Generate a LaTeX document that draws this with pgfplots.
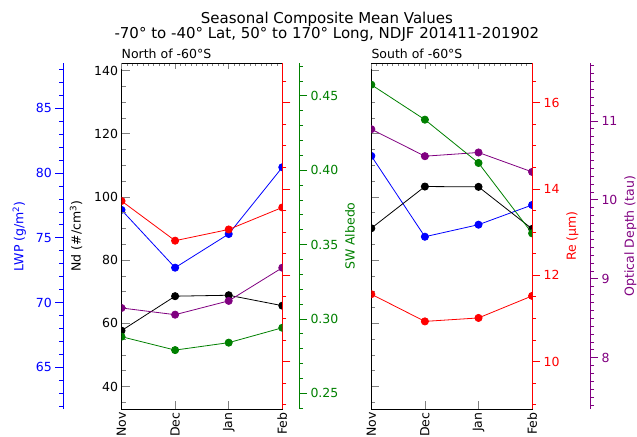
\documentclass[border=0pt]{standalone}
\usepackage{pgfplots}
\usepackage{pgfplotstable}
\pgfplotsset{compat=1.18}
\usepackage{fontspec}
\setmainfont{DejaVu Sans}
\definecolor{cblue}{RGB}{0,0,255}
\definecolor{cred}{RGB}{255,0,0}
\definecolor{cgreen}{RGB}{0,128,0}
\definecolor{cpurple}{RGB}{128,0,128}
\newcommand{\fs}{\fontsize{12.5bp}{15bp}\selectfont}
\pgfplotsset{
  base/.style={scale only axis, width=160.8bp, height=345.7bp, xmin=0, xmax=3,
    clip marker paths=true, major tick length=8bp, minor tick length=4bp,
    /pgf/number format/assume math mode=true,
    tick label style={font=\fs}, label style={font=\fs},
    axis line style={line width=0.8bp}, tick style={line width=0.7bp}},
  ndax/.style={ymin=32.9, ymax=142.3, ytick={40,60,80,100,120,140}, minor ytick={35,40,...,140}},
  lwpax/.style={ymin=61.78, ymax=88.47, ytick={65,70,75,80,85}, minor ytick={62,63,...,88}},
  reax/.style={ymin=8.9, ymax=16.91, ytick={10,12,14,16}, minor ytick={9,9.5,...,16.6}},
  tauax/.style={ymin=7.35, ymax=11.73, ytick={8,9,10,11}, minor ytick={7.4,7.5,...,11.75}},
  albax/.style={ymin=0.2394, ymax=0.4718, ytick={0.25,0.3,0.35,0.4,0.45}, minor ytick={0.24,0.25,...,0.471},
    yticklabel style={/pgf/number format/fixed, /pgf/number format/fixed zerofill, /pgf/number format/precision=2}},
  ser/.style={line width=0.8bp, color=#1, mark=*, mark size=3.6bp, mark options={fill=#1, draw=#1}},
}
\pgfplotstableread{
m lwp nd re tau alb
0 77.15 57.7 13.72 8.63 0.288
1 72.69 68.6 12.80 8.545 0.279
2 75.29 68.9 13.06 8.72 0.284
3 80.44 65.6 13.57 9.14 0.294
}\north
\pgfplotstableread{
m lwp nd re tau alb
0 81.32 90.1 11.56 10.895 0.4574
1 75.08 103.3 10.93 10.553 0.4339
2 76.01 103.2 11.01 10.60 0.4048
3 77.53 89.9 11.52 10.354 0.3575
}\south
\begin{document}
\begin{tikzpicture}
\useasboundingbox (0,0) rectangle (637bp,437bp);
% titles
\node[anchor=base, align=center, inner sep=0pt, font=\fontsize{15bp}{13.3bp}\selectfont] at (326.9bp,398.7bp) {Seasonal Composite Mean Values\\-70° to -40° Lat, 50° to 170° Long, NDJF 201411-201902};
\node[anchor=base west, font=\fs, inner xsep=0pt] at (121.5bp,378bp) {North of -60°S};
\node[anchor=base west, font=\fs, inner xsep=0pt] at (371.3bp,378bp) {South of -60°S};

% ===== LEFT PANEL =====
\begin{axis}[base, lwpax, at={(121.5bp,28bp)}, anchor=south west, hide axis]
\addplot[ser=cblue] table[x=m, y=lwp] {\north};
\end{axis}
\begin{axis}[base, lwpax, at={(63.3bp,28bp)}, anchor=south west, hide x axis, axis y line*=left, tick align=outside,
  y axis line style={cblue}, ytick style={cblue}, yticklabel style={text=cblue},
  ylabel={LWP (g/m\textsuperscript{2})}, ylabel style={text=cblue}, ylabel shift=3bp]
\end{axis}
\begin{axis}[base, ndax, at={(121.5bp,28bp)}, anchor=south west, xtick={0,1,2,3}, xticklabels={Nov,Dec,Jan,Feb},
  xtick pos=bottom, ytick pos=left, tick align=inside, xticklabel style={rotate=90, anchor=east},
  ylabel={Nd (\#/cm\textsuperscript{3})}, ylabel shift=5bp]
\addplot[ser=black] table[x=m, y=nd] {\north};
\end{axis}
\begin{axis}[base, ndax, at={(121.5bp,28bp)}, anchor=south west, hide y axis, axis x line*=top, xtick={0,1,2,3},
  minor xtick={0,0.1,...,3.01}, xticklabels={}, tick align=inside, major tick length=6bp, minor tick length=3bp]
\end{axis}
\begin{axis}[base, reax, at={(121.5bp,28bp)}, anchor=south west, hide x axis, axis y line*=right, tick align=outside,
  y axis line style={cred}, ytick style={cred}, yticklabels={}]
\addplot[ser=cred] table[x=m, y=re] {\north};
\end{axis}
\begin{axis}[base, tauax, at={(121.5bp,28bp)}, anchor=south west, hide axis]
\addplot[ser=cpurple] table[x=m, y=tau] {\north};
\end{axis}
\begin{axis}[base, albax, at={(121.5bp,28bp)}, anchor=south west, hide axis]
\addplot[ser=cgreen] table[x=m, y=alb] {\north};
\end{axis}
\begin{axis}[base, albax, at={(299bp,28bp)}, anchor=south east, hide x axis, axis y line*=right, tick align=outside,
  y axis line style={cgreen}, ytick style={cgreen}, yticklabel style={text=cgreen},
  ylabel={SW Albedo}, ylabel style={text=cgreen}]
\end{axis}

% ===== RIGHT PANEL =====
\begin{axis}[base, lwpax, at={(371.3bp,28bp)}, anchor=south west, hide axis]
\addplot[ser=cblue] table[x=m, y=lwp] {\south};
\end{axis}
\begin{axis}[base, ndax, at={(371.3bp,28bp)}, anchor=south west, xtick={0,1,2,3}, xticklabels={Nov,Dec,Jan,Feb},
  xtick pos=bottom, ytick pos=left, tick align=inside, xticklabel style={rotate=90, anchor=east}, yticklabels={}]
\addplot[ser=black] table[x=m, y=nd] {\south};
\end{axis}
\begin{axis}[base, ndax, at={(371.3bp,28bp)}, anchor=south west, hide y axis, axis x line*=top, xtick={0,1,2,3},
  minor xtick={0,0.1,...,3.01}, xticklabels={}, tick align=inside, major tick length=6bp, minor tick length=3bp]
\end{axis}
\begin{axis}[base, reax, at={(371.3bp,28bp)}, anchor=south west, hide x axis, axis y line*=right, tick align=outside,
  y axis line style={cred}, ytick style={cred}, yticklabel style={text=cred},
  ylabel={Re (µm)}, ylabel style={text=cred}]
\addplot[ser=cred] table[x=m, y=re] {\south};
\end{axis}
\begin{axis}[base, tauax, at={(371.3bp,28bp)}, anchor=south west, hide axis]
\addplot[ser=cpurple] table[x=m, y=tau] {\south};
\end{axis}
\begin{axis}[base, albax, at={(371.3bp,28bp)}, anchor=south west, hide axis]
\addplot[ser=cgreen] table[x=m, y=alb] {\south};
\end{axis}
\begin{axis}[base, tauax, at={(590bp,28bp)}, anchor=south east, hide x axis, axis y line*=right, tick align=outside,
  y axis line style={cpurple}, ytick style={cpurple}, yticklabel style={text=cpurple},
  ylabel={Optical Depth (tau)}, ylabel style={text=cpurple}]
\end{axis}
\end{tikzpicture}
\end{document}
